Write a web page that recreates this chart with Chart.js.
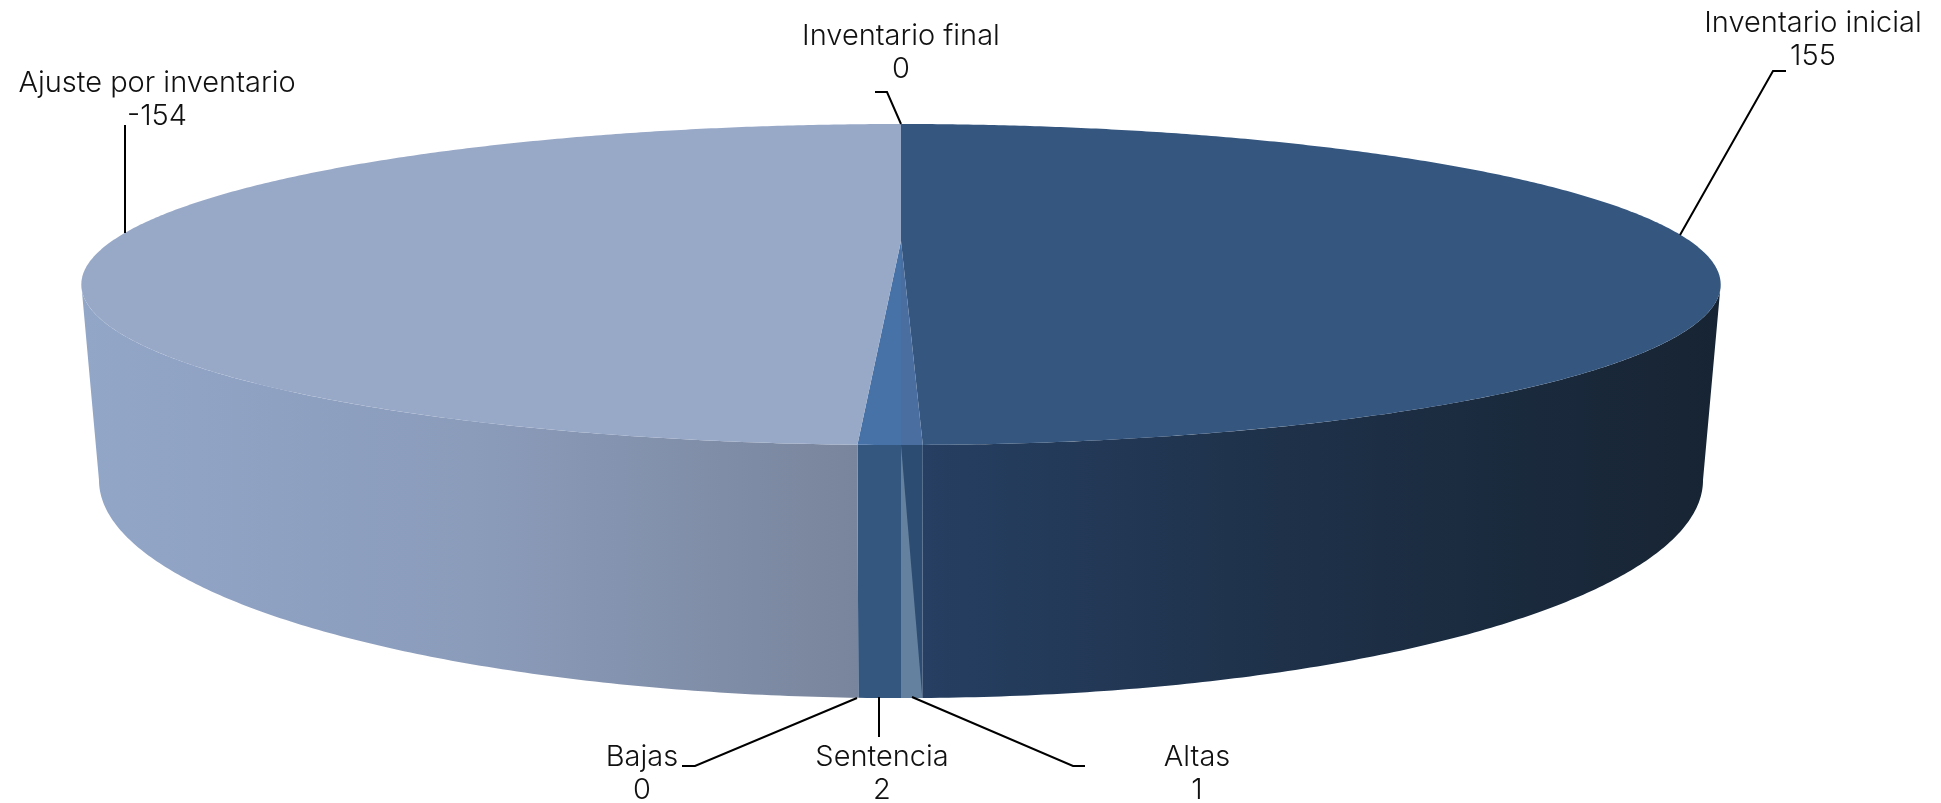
<!DOCTYPE html>
<html>
<head>
<meta charset="utf-8">
<style>
  html, body { margin: 0; padding: 0; background: #fff; }
  #pie { display: block; }
</style>
</head>
<body>
<canvas id="pie" width="1941" height="803"></canvas>
<script src="https://cdn.jsdelivr.net/npm/chart.js@4"></script>
<script>
const categories = ['Inventario inicial', 'Altas', 'Sentencia', 'Bajas', 'Ajuste por inventario', 'Inventario final'];
const values = [155, 1, 2, 0, -154, 0];

const topColors = ['#34567f', '#4a6e9f', '#4672a8', '#4672a8', '#98a9c8', '#98a9c8'];

// wall colours, left to right on screen
const wallColors = [
    [[0, '#263f62'], [0.45, '#1e3149'], [1, '#172433']],
    [[0, '#2d4c72'], [1, '#2d4c72']],
    [[0, '#34577f'], [1, '#34577f']],
    [[0, '#34577f'], [1, '#34577f']],
    [[0, '#92a6c8'], [0.5, '#8b9cbb'], [1, '#79859c']],
    [[0, '#92a6c8'], [1, '#92a6c8']]
];
const altasStripe = '#64829f';

// position of each label and its leader line
const labelLayout = [
    { x: 1813, y: 32, leader: [[1786, 71], [1773, 71], [1680, 235]] },
    { x: 1197, y: 766, leader: [[912, 697], [1073, 766], [1085, 766]] },
    { x: 882, y: 766, leader: [[879, 697], [879, 737]] },
    { x: 642, y: 766, leader: [[682, 766], [695, 766], [857, 698]] },
    { x: 157, y: 92, leader: [[125, 125], [125, 233]] },
    { x: 901, y: 45, leader: [[875, 92], [887, 92], [901, 124]] }
];
const lineGap = 33;

// perspective of the disc: top face and bottom face
const centerX = 901;
const tilt = 0.271;
const topFace = { y0: 241, a: 148.7, b: 789 };
const bottomFace = { y0: 421, a: 202, b: 772 };
const silhouette = Math.acos(-tilt);

function project(face, theta) {
    const u = Math.sin(theta);
    const v = -Math.cos(theta);
    const w = 1 - tilt * v;
    return [centerX + face.b * u / w, face.y0 + face.a * v / w];
}

function arcPoints(face, from, to) {
    const pts = [];
    const steps = Math.max(2, Math.ceil(Math.abs(to - from) * 120));
    for (let i = 0; i <= steps; i++) {
        pts.push(project(face, from + (to - from) * i / steps));
    }
    return pts;
}

function fillPath(ctx, pts, style) {
    ctx.beginPath();
    pts.forEach((p, i) => (i ? ctx.lineTo(p[0], p[1]) : ctx.moveTo(p[0], p[1])));
    ctx.closePath();
    ctx.fillStyle = style;
    ctx.fill();
}

const pie3d = {
    id: 'pie3d',
    beforeDatasetDraw(chart, args) {
        const ctx = chart.ctx;
        const arcs = args.meta.data;
        const slices = arcs.map((arc) => {
            // chart.js angles start at -PI/2, here theta starts at the top going clockwise
            return { from: arc.startAngle + Math.PI / 2, to: arc.endAngle + Math.PI / 2 };
        });

        // walls, only the part that faces the viewer
        slices.forEach((s, i) => {
            const from = Math.max(s.from, silhouette);
            const to = Math.min(s.to, Math.PI * 2 - silhouette);
            if (to <= from) return;
            const top = arcPoints(topFace, from, to);
            const bottom = arcPoints(bottomFace, from, to);
            const xs = top.concat(bottom).map((p) => p[0]);
            const grad = ctx.createLinearGradient(Math.min(...xs), 0, Math.max(...xs), 0);
            wallColors[i].forEach((c) => grad.addColorStop(c[0], c[1]));
            fillPath(ctx, top.concat(bottom.reverse()), grad);
        });

        // lighter stripe of the Altas wall
        const altas = slices[1];
        fillPath(ctx, [project(topFace, altas.to)].concat(arcPoints(bottomFace, altas.from, altas.to)), altasStripe);

        // top face
        slices.forEach((s, i) => {
            if (s.to - s.from <= 0) return;
            const pts = [[centerX, topFace.y0]].concat(arcPoints(topFace, s.from, s.to));
            fillPath(ctx, pts, topColors[i]);
        });

        return false;
    },
    afterDraw(chart) {
        const ctx = chart.ctx;
        ctx.save();
        ctx.strokeStyle = '#000';
        ctx.lineWidth = 2;
        labelLayout.forEach((l) => {
            ctx.beginPath();
            l.leader.forEach((p, i) => (i ? ctx.lineTo(p[0], p[1]) : ctx.moveTo(p[0], p[1])));
            ctx.stroke();
        });
        ctx.fillStyle = '#111';
        ctx.font = "300 29px Inter, Lato, sans-serif";
        ctx.textAlign = 'center';
        categories.forEach((name, i) => {
            ctx.fillText(name, labelLayout[i].x, labelLayout[i].y);
            ctx.fillText(String(values[i]), labelLayout[i].x, labelLayout[i].y + lineGap);
        });
        ctx.restore();
    }
};

new Chart(document.getElementById('pie').getContext('2d'), {
    type: 'pie',
    plugins: [pie3d],
    data: {
        labels: categories,
        datasets: [{ data: values, backgroundColor: topColors, borderWidth: 0 }]
    },
    options: {
        responsive: false,
        devicePixelRatio: 1,
        animation: false,
        plugins: {
            legend: { display: false },
            tooltip: { enabled: false }
        }
    }
});
</script>
</body>
</html>
